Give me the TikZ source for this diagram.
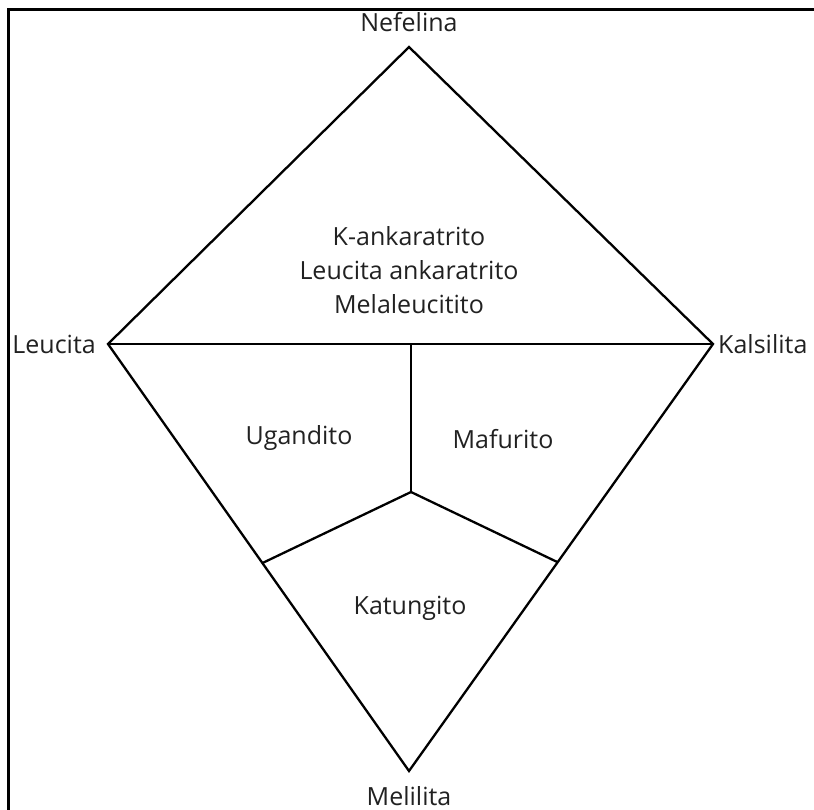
\documentclass[tikz,border=0pt]{standalone}
\usepackage{fontspec}
\setmainfont{Open Sans}
\usetikzlibrary{calc}
\begin{document}
\begin{tikzpicture}[x=1pt,y=-1pt,
  edge/.style={line width=2.3pt,line join=miter},
  lab/.style={font=\fontsize{25}{30}\selectfont,inner sep=0pt,text=black!87}]
\useasboundingbox (0,0) rectangle (814,810);
\draw[line width=3pt] (8,810) -- (8,10) -- (814,10);
\coordinate (N) at (409,47);
\coordinate (L) at (108,344);
\coordinate (K) at (713,344);
\coordinate (M) at (409,771);
\coordinate (C) at (411,492);
\coordinate (T) at (411,344);
\coordinate (JL) at ($(L)!0.513!(M)$);
\coordinate (JR) at ($(K)!0.511!(M)$);
\draw[edge] (L) -- (N) -- (K) -- (M) -- cycle;
\draw[edge] (L) -- (K);
\draw[edge] (T) -- (C);
\draw[edge] (JL) -- (C) -- (JR);
\node[lab] (nN) at (409,22) {Nefelina};
\node[lab,anchor=east] (nL) at (96,344) {Leucita};
\node[lab,anchor=west] (nK) at (718,344) {Kalsilita};
\node[lab] (nM) at (409,796) {Melilita};
\node[lab,align=center] (nTop) at (409,270) {K-ankaratrito\\[4pt]Leucita ankaratrito\\[4pt]Melaleucitito};
\node[lab] (nU) at (299,438) {Ugandito};
\node[lab] (nMa) at (503,439) {Mafurito};
\node[lab] (nKa) at (410,608) {Katungito};
\end{tikzpicture}
\end{document}
